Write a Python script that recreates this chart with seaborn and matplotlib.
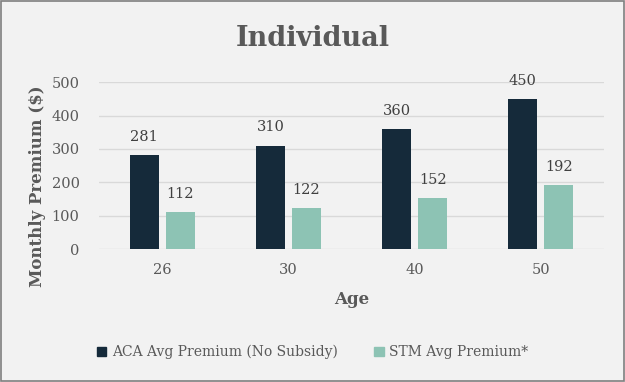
import matplotlib
matplotlib.use("Agg")
import matplotlib.pyplot as plt
import seaborn as sns
import pandas as pd

ages = ["26", "30", "40", "50"]
aca = [281, 310, 360, 450]
stm = [112, 122, 152, 192]
series = ["ACA Avg Premium (No Subsidy)", "STM Avg Premium*"]
colors = ["#152A3A", "#8DC3B4"]

df = pd.DataFrame({
    "Age": ages * 2,
    "Premium": aca + stm,
    "Series": [series[0]] * 4 + [series[1]] * 4,
})

sns.set_style("white")
plt.rcParams["font.family"] = ["DejaVu Serif"]
bg = "#F2F2F2"
grey = "#595959"

fig = plt.figure(figsize=(6.25, 3.82), dpi=100, facecolor=bg)
ax = fig.add_axes([0.1584, 0.348, 0.808, 0.437])
ax.set_facecolor(bg)

sns.barplot(data=df, x="Age", y="Premium", hue="Series", palette=colors,
            width=0.57, gap=0.19, saturation=1, linewidth=0, ax=ax, legend=True)

for cont in ax.containers:
    ax.bar_label(cont, padding=8, fontsize=10.5, color="#404040")

ax.set_ylim(0, 500)
ax.set_yticks(range(0, 501, 100))
ax.yaxis.grid(True, color="#D9D9D9", linewidth=1)
ax.set_axisbelow(True)
for s in ax.spines.values():
    s.set_visible(False)
ax.tick_params(axis="both", length=0, labelsize=10.5, labelcolor=grey, pad=14)
ax.tick_params(axis="x", pad=10)
ax.set_xlabel("Age", fontsize=12, fontweight="bold", color=grey, labelpad=10)
ax.set_ylabel("Monthly Premium ($)", fontsize=12, fontweight="bold", color=grey)
ax.yaxis.set_label_coords(-0.104, 0.377)

ax.legend_.remove()
handles = [plt.Rectangle((0, 0), 1, 1, color=c) for c in colors]
fig.legend(handles, series, loc="center", bbox_to_anchor=(0.5, 0.078), ncol=2,
           frameon=False, fontsize=10, labelcolor=grey, handlelength=0.7,
           handleheight=0.7, handletextpad=0.4, columnspacing=2.6)

fig.text(0.5, 0.9, "Individual", ha="center", va="center", fontsize=19.5,
         fontweight="bold", color=grey)

border = plt.Rectangle((0.002, 0.003), 0.996, 0.994, transform=fig.transFigure,
                       fill=False, edgecolor="#7F7F7F", linewidth=1.2)
fig.patches.append(border)

fig.savefig("out.png", dpi=100, facecolor=bg)
